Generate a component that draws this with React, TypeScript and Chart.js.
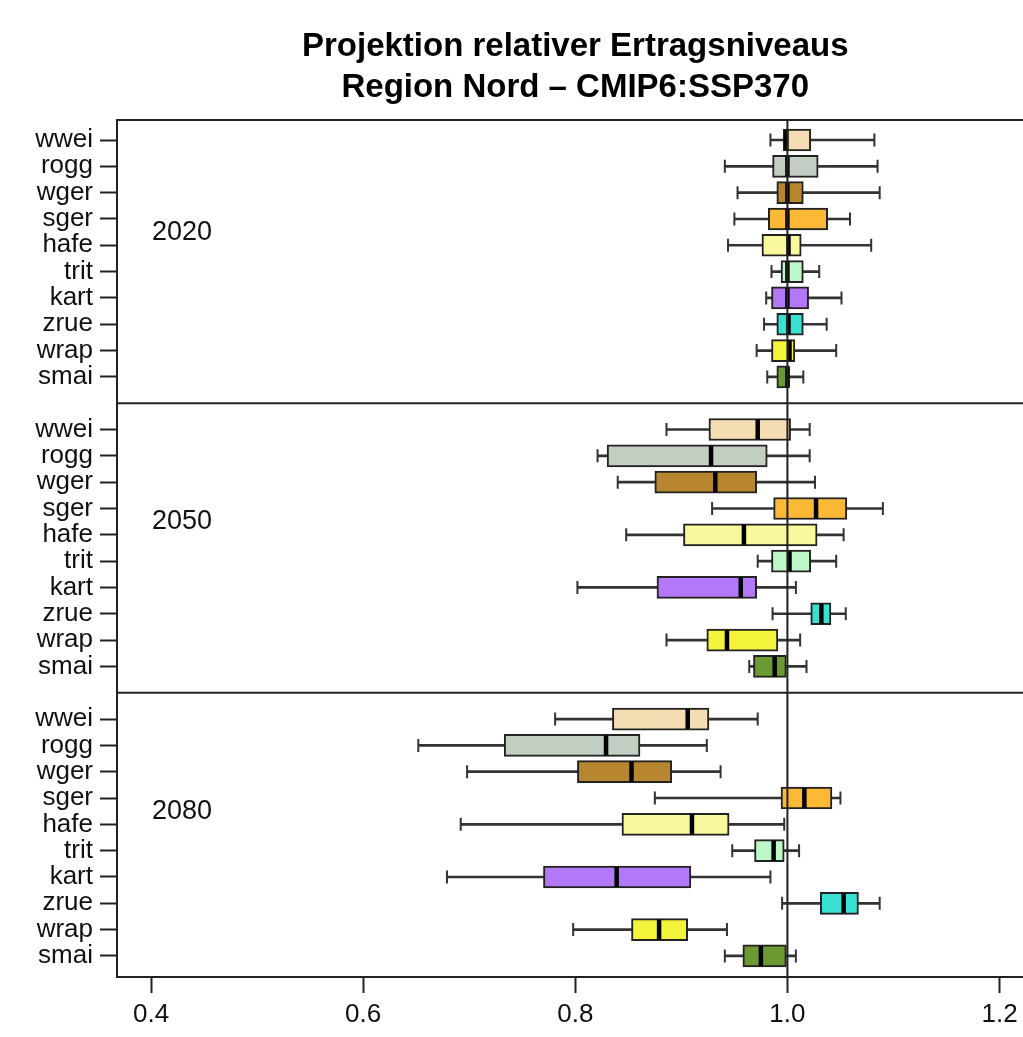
import React, { useEffect, useRef } from "react";
import { Chart, registerables } from "chart.js";

Chart.register(...registerables);

const TITLE_LINES = ["Projektion relativer Ertragsniveaus", "Region Nord \u2013 CMIP6:SSP370"];
const CROPS = ["wwei", "rogg", "wger", "sger", "hafe", "trit", "kart", "zrue", "wrap", "smai"];
const YEARS = ["2020", "2050", "2080"];
const CROP_COLORS = ["#F5DDB3", "#C2CEC2", "#B8862E", "#FCB936", "#F8F89C", "#BEF7C8", "#B378F7", "#38E0D2", "#F3F33C", "#6C9A32"];
const X_TICKS = [0.4, 0.6, 0.8, 1.0, 1.2];
const REFERENCE_VALUE = 1.0;

// 2020
const LOW_2020 = [0.984, 0.941, 0.953, 0.950, 0.944, 0.985, 0.980, 0.978, 0.971, 0.981];
const Q1_2020 = [0.996, 0.986, 0.990, 0.982, 0.976, 0.994, 0.985, 0.990, 0.985, 0.990];
const MED_2020 = [0.999, 1.000, 1.000, 1.000, 1.001, 1.000, 1.000, 1.001, 1.002, 1.000];
const Q3_2020 = [1.022, 1.029, 1.015, 1.038, 1.013, 1.015, 1.020, 1.015, 1.007, 1.002];
const HIGH_2020 = [1.082, 1.085, 1.087, 1.059, 1.079, 1.030, 1.051, 1.037, 1.046, 1.015];
// 2050
const LOW_2050 = [0.886, 0.821, 0.840, 0.929, 0.848, 0.972, 0.802, 0.986, 0.886, 0.964];
const Q1_2050 = [0.926, 0.830, 0.875, 0.987, 0.902, 0.985, 0.877, 1.022, 0.924, 0.968];
const MED_2050 = [0.972, 0.928, 0.932, 1.027, 0.959, 1.002, 0.956, 1.032, 0.943, 0.988];
const Q3_2050 = [1.003, 0.981, 0.971, 1.056, 1.028, 1.022, 0.971, 1.041, 0.991, 0.999];
const HIGH_2050 = [1.021, 1.021, 1.026, 1.090, 1.053, 1.046, 1.008, 1.055, 1.012, 1.018];
// 2080
const LOW_2080 = [0.781, 0.652, 0.698, 0.875, 0.692, 0.948, 0.679, 0.995, 0.798, 0.941];
const Q1_2080 = [0.835, 0.733, 0.802, 0.994, 0.844, 0.969, 0.770, 1.031, 0.853, 0.958];
const MED_2080 = [0.906, 0.829, 0.853, 1.016, 0.910, 0.987, 0.839, 1.053, 0.879, 0.975];
const Q3_2080 = [0.926, 0.861, 0.891, 1.042, 0.945, 0.997, 0.909, 1.067, 0.906, 0.999];
const HIGH_2080 = [0.972, 0.924, 0.937, 1.050, 0.997, 1.011, 0.984, 1.087, 0.943, 1.008];

const LOWS = [LOW_2020, LOW_2050, LOW_2080];
const Q1S = [Q1_2020, Q1_2050, Q1_2080];
const MEDS = [MED_2020, MED_2050, MED_2080];
const Q3S = [Q3_2020, Q3_2050, Q3_2080];
const HIGHS = [HIGH_2020, HIGH_2050, HIGH_2080];

const SLOTS_PER_PANEL = CROPS.length + 1;

type Row = { k: number; crop: number; low: number; q1: number; med: number; q3: number; high: number };

function buildRows(): Row[] {
  const rows: Row[] = [];
  YEARS.forEach((_, p) => {
    CROPS.forEach((_, i) => {
      rows.push({
        k: p * SLOTS_PER_PANEL + i,
        crop: i,
        low: LOWS[p][i],
        q1: Q1S[p][i],
        med: MEDS[p][i],
        q3: Q3S[p][i],
        high: HIGHS[p][i],
      });
    });
  });
  return rows;
}

const FONT = "'Liberation Sans', Arial, Helvetica, sans-serif";
const INK = "#222222";

export default function App() {
  const canvasRef = useRef<HTMLCanvasElement | null>(null);

  useEffect(() => {
    const canvas = canvasRef.current;
    if (!canvas) return;
    const rows = buildRows();
    const rowTicks = rows.map((r) => r.k);

    const framePlugin = {
      id: "framePlugin",
      afterDatasetsDraw(chart: any) {
        const { ctx, chartArea } = chart;
        const xs = chart.scales.x;
        const ys = chart.scales.y;
        ctx.save();
        ctx.strokeStyle = INK;
        ctx.lineWidth = 2;
        // reference line
        const xr = xs.getPixelForValue(REFERENCE_VALUE);
        ctx.beginPath();
        ctx.moveTo(xr, chartArea.top);
        ctx.lineTo(xr, chartArea.bottom);
        ctx.stroke();
        // top border
        ctx.beginPath();
        ctx.moveTo(chartArea.left - 1, chartArea.top);
        ctx.lineTo(chartArea.right, chartArea.top);
        ctx.stroke();
        // panel dividers
        for (let p = 1; p < YEARS.length; p++) {
          const y = ys.getPixelForValue(p * SLOTS_PER_PANEL - 1);
          ctx.beginPath();
          ctx.moveTo(chartArea.left, y);
          ctx.lineTo(chartArea.right, y);
          ctx.stroke();
        }
        // year labels
        ctx.fillStyle = "#111";
        ctx.font = `27px ${FONT}`;
        ctx.textAlign = "left";
        ctx.textBaseline = "middle";
        YEARS.forEach((yr, p) => {
          const y = ys.getPixelForValue(p * SLOTS_PER_PANEL + (CROPS.length - 1) / 2 - 1);
          ctx.fillText(yr, chartArea.left + 35, y);
        });
        ctx.restore();
      },
      afterDraw(chart: any) {
        const { ctx, chartArea } = chart;
        ctx.save();
        ctx.fillStyle = "#000";
        ctx.font = `bold 33px ${FONT}`;
        ctx.textAlign = "center";
        ctx.textBaseline = "middle";
        const cx = (chartArea.left + chartArea.right) / 2 + 5;
        ctx.fillText(TITLE_LINES[0], cx, 47);
        ctx.fillText(TITLE_LINES[1], cx, 88);
        ctx.restore();
      },
    };

    const zeroPad = (scale: any) => {
      scale.paddingLeft = 0;
      scale.paddingRight = 0;
      scale.paddingTop = 0;
      scale.paddingBottom = 0;
    };

    const chart = new Chart(canvas, {
      type: "bar",
      data: {
        datasets: [
          {
            type: "scatter",
            label: "median",
            data: rows.map((r) => ({ x: r.med, y: r.k })),
            pointStyle: "line",
            rotation: 90,
            radius: 10,
            borderWidth: 4.5,
            borderColor: "#000",
            backgroundColor: "#000",
            order: 0,
          } as any,
          {
            type: "bar",
            label: "box",
            indexAxis: "y",
            data: rows.map((r) => ({ y: r.k, x: [r.q1, r.q3] })),
            backgroundColor: rows.map((r) => CROP_COLORS[r.crop]),
            borderColor: INK,
            borderWidth: 2,
            borderSkipped: false,
            barThickness: 22,
            grouped: false,
            order: 1,
          } as any,
          {
            type: "scatter",
            label: "caps",
            data: rows.flatMap((r) => [
              { x: r.low, y: r.k },
              { x: r.high, y: r.k },
            ]),
            pointStyle: "line",
            rotation: 90,
            radius: 6.5,
            borderWidth: 2,
            borderColor: "#333",
            backgroundColor: "#333",
            order: 2,
          } as any,
          {
            type: "bar",
            label: "whisker",
            indexAxis: "y",
            data: rows.map((r) => ({ y: r.k, x: [r.low, r.high] })),
            backgroundColor: "#333",
            borderWidth: 0,
            barThickness: 2,
            grouped: false,
            order: 3,
          } as any,
        ],
      },
      options: {
        indexAxis: "y",
        responsive: false,
        maintainAspectRatio: false,
        animation: false,
        events: [],
        layout: { padding: { top: 120, left: 0, right: 0, bottom: 0 } },
        plugins: {
          legend: { display: false },
          tooltip: { enabled: false },
          title: { display: false },
        },
        scales: {
          x: {
            type: "linear",
            position: "bottom",
            offset: false,
            min: 0.3679,
            max: 1.2226,
            afterBuildTicks: (scale: any) => {
              scale.ticks = X_TICKS.map((v) => ({ value: v }));
            },
            afterFit: (scale: any) => {
              scale.height = 60;
              zeroPad(scale);
            },
            ticks: {
              autoSkip: false,
              maxRotation: 0,
              padding: 6,
              color: "#111",
              font: { family: FONT, size: 26 },
              callback: (v: any) => Number(v).toFixed(1),
            },
            grid: {
              offset: false,
              drawOnChartArea: false,
              drawTicks: true,
              tickLength: 16,
              tickWidth: 2,
              tickColor: INK,
            },
            border: { display: true, color: INK, width: 2 },
          },
          y: {
            type: "linear",
            position: "left",
            offset: false,
            reverse: true,
            min: -0.76,
            max: 31.8,
            afterBuildTicks: (scale: any) => {
              scale.ticks = rowTicks.map((v) => ({ value: v }));
            },
            afterFit: (scale: any) => {
              scale.width = 117;
              zeroPad(scale);
            },
            ticks: {
              autoSkip: false,
              padding: 7,
              color: "#111",
              font: { family: FONT, size: 26 },
              callback: (v: any) => {
                const r = rows.find((row) => row.k === Number(v));
                return r ? CROPS[r.crop] : "";
              },
            },
            grid: {
              offset: false,
              drawOnChartArea: false,
              drawTicks: true,
              tickLength: 17,
              tickWidth: 2,
              tickColor: INK,
            },
            border: { display: true, color: INK, width: 2 },
          },
        },
      } as any,
      plugins: [framePlugin],
    });

    return () => {
      chart.destroy();
    };
  }, []);

  return (
    <div style={{ position: "absolute", left: 0, top: 0, width: 1023, height: 1037, overflow: "hidden", background: "#fff" }}>
      <canvas ref={canvasRef} width={1038} height={1037} style={{ display: "block" }} />
    </div>
  );
}
